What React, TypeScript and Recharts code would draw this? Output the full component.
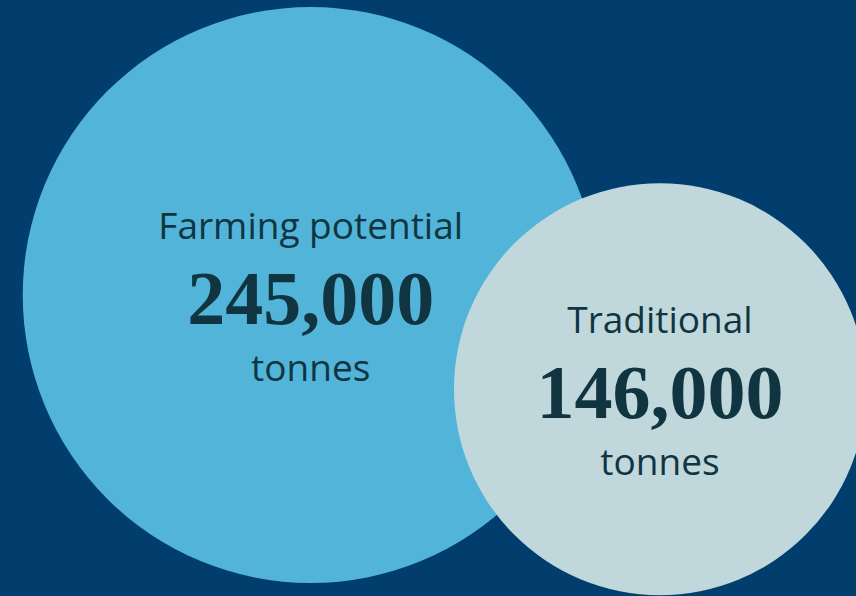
import React from 'react';
import { ScatterChart, Scatter, XAxis, YAxis, ZAxis } from 'recharts';

const categories = ['Farming potential', 'Traditional'];
const values = [245000, 146000];
const unitLabels = ['tonnes', 'tonnes'];
// layout position of each bubble (percent of chart width / height from top)
const xPositions = [36.3, 77.1];
const yPositions = [49.5, 65.3];

const BG = '#013E6D';
const bubbleColors = ['#51B4D8', '#C0D8DC'];
const TEXT = '#103541';

const data = categories.map((name, i) => ({
  name,
  value: values[i],
  unit: unitLabels[i],
  x: xPositions[i],
  y: yPositions[i],
  idx: i,
}));

const Bubble = (props: any) => {
  const { cx, cy, width, payload } = props;
  const r = width / 2;
  const i = payload.idx;
  return (
    <g>
      <circle cx={cx} cy={cy} r={r} fill={bubbleColors[i]} />
      <text
        x={cx}
        y={cy - 56}
        textAnchor="middle"
        fill={TEXT}
        fontFamily="'Open Sans', sans-serif"
        fontSize={37}
      >
        {payload.name}
      </text>
      <text
        x={cx}
        y={cy + 28.5}
        textAnchor="middle"
        fill={TEXT}
        fontFamily="'Liberation Serif', 'Times New Roman', serif"
        fontWeight="bold"
        fontSize={76}
      >
        {payload.value.toLocaleString('en-US')}
      </text>
      <text
        x={cx}
        y={cy + 85.5}
        textAnchor="middle"
        fill={TEXT}
        fontFamily="'Open Sans', sans-serif"
        fontSize={37}
      >
        {payload.unit}
      </text>
    </g>
  );
};

export default function App() {
  return (
    <div style={{ position: 'absolute', left: 0, top: 0, width: 856, height: 596, background: BG, overflow: 'hidden' }}>
      <ScatterChart width={856} height={596} margin={{ top: 0, right: 0, bottom: 0, left: 0 }}>
        <XAxis type="number" dataKey="x" domain={[0, 100]} hide />
        <YAxis type="number" dataKey="y" domain={[0, 100]} reversed hide />
        <ZAxis type="number" dataKey="value" domain={[146000, 245000]} range={[Math.PI * 206 * 206, Math.PI * 288 * 288]} />
        <Scatter data={data} shape={Bubble} isAnimationActive={false} />
      </ScatterChart>
    </div>
  );
}
